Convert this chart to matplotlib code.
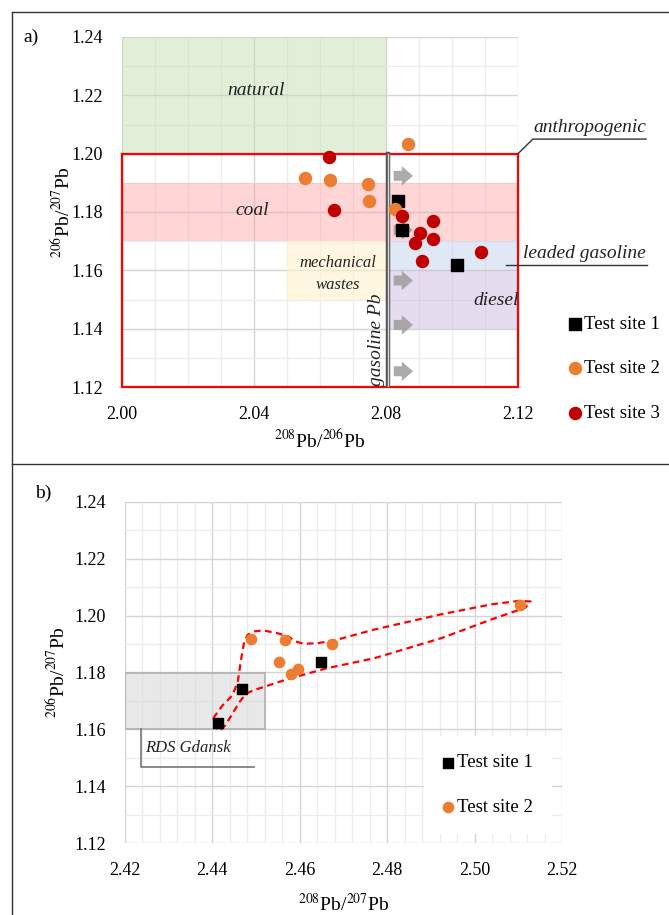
import numpy as np
import matplotlib
matplotlib.use('Agg')
import matplotlib.pyplot as plt
from matplotlib.patches import Rectangle
from matplotlib.lines import Line2D
from matplotlib.ticker import MultipleLocator

plt.rcParams['font.family'] = ['Liberation Serif', 'DejaVu Serif']
plt.rcParams['mathtext.fontset'] = 'stix'

# panel a) data: 208Pb/206Pb vs 206Pb/207Pb
a_site1_x = [2.0837, 2.0847, 2.1016]
a_site1_y = [1.1837, 1.1738, 1.1617]
a_site2_x = [2.0867, 2.0555, 2.0629, 2.0745, 2.0747, 2.0828]
a_site2_y = [1.2032, 1.1916, 1.1910, 1.1895, 1.1838, 1.1810]
a_site3_x = [2.0628, 2.0641, 2.0848, 2.0943, 2.0904, 2.0941, 2.0889, 2.0908, 2.1087]
a_site3_y = [1.1987, 1.1808, 1.1786, 1.1768, 1.1729, 1.1706, 1.1693, 1.1632, 1.1664]

# source fields (x0, x1, y0, y1)
natural = (2.00, 2.08, 1.20, 1.24)
coal = (2.00, 2.12, 1.17, 1.19)
mech_wastes = (2.05, 2.08, 1.15, 1.17)
leaded = (2.08, 2.12, 1.16, 1.17)
diesel = (2.08, 2.12, 1.14, 1.16)
anthropogenic = (2.00, 2.12, 1.12, 1.20)
gasoline_x = 2.0805
arrow_y = [1.1924, 1.1738, 1.1565, 1.1413, 1.1254]

# panel b) data: 208Pb/207Pb vs 206Pb/207Pb
b_site1_x = [2.4413, 2.4468, 2.4649]
b_site1_y = [1.1622, 1.1741, 1.1836]
b_site2_x = [2.4489, 2.4566, 2.4674, 2.4553, 2.4580, 2.4595, 2.5104]
b_site2_y = [1.1917, 1.1913, 1.1899, 1.1838, 1.1795, 1.1813, 1.2036]
rds_box = (2.42, 2.452, 1.16, 1.18)
# hand drawn envelope around the samples
env_x = [2.4402, 2.4423, 2.4446, 2.4458, 2.4466, 2.4473, 2.4481, 2.4497, 2.4516,
         2.4547, 2.4574, 2.4589, 2.4608, 2.4639, 2.4677, 2.4770, 2.4924, 2.5039,
         2.5101, 2.5128, 2.5116, 2.5039, 2.4924, 2.4770, 2.4662, 2.4577, 2.4493,
         2.4477, 2.4462, 2.4443, 2.4430, 2.4417, 2.4405, 2.4402]
env_y = [1.1639, 1.1684, 1.1720, 1.1767, 1.1850, 1.1910, 1.1933, 1.1945, 1.1948,
         1.1939, 1.1927, 1.1910, 1.1901, 1.1903, 1.1912, 1.1951, 1.2005, 1.2040,
         1.2052, 1.2050, 1.2028, 1.1987, 1.1921, 1.1850, 1.1815, 1.1779, 1.1737,
         1.1726, 1.1696, 1.1648, 1.1615, 1.1595, 1.1610, 1.1639]

ORANGE = '#ED7D31'
RED = '#C00000'
TS = 13

fig = plt.figure(figsize=(6.69, 9.15), dpi=100)

def style_axes(ax, xlim, ylim, xmaj, xmin, ymaj, ymin):
    ax.set_xlim(*xlim)
    ax.set_ylim(*ylim)
    ax.xaxis.set_major_locator(MultipleLocator(xmaj))
    ax.xaxis.set_minor_locator(MultipleLocator(xmin))
    ax.yaxis.set_major_locator(MultipleLocator(ymaj))
    ax.yaxis.set_minor_locator(MultipleLocator(ymin))
    ax.grid(which='major', color='#d4d4d4', lw=1.0)
    ax.grid(which='minor', color='#ececec', lw=0.9)
    ax.set_axisbelow(True)
    for s in ax.spines.values():
        s.set_visible(False)
    ax.tick_params(which='both', length=0, labelsize=TS)
    ax.tick_params(axis='x', pad=14)
    ax.tick_params(axis='y', pad=14)
    ax.xaxis.set_major_formatter(matplotlib.ticker.FormatStrFormatter('%.2f'))
    ax.yaxis.set_major_formatter(matplotlib.ticker.FormatStrFormatter('%.2f'))

def field(ax, r, color, alpha, **kw):
    ax.add_patch(Rectangle((r[0], r[2]), r[1] - r[0], r[3] - r[2],
                           facecolor=color, alpha=alpha, lw=0, zorder=1, **kw))

# ---------- panel a ----------
ax1 = fig.add_axes([122/669, 1 - 387/915, 396/669, 350/915])
style_axes(ax1, (2.00, 2.12), (1.12, 1.24), 0.04, 0.01, 0.02, 0.01)

field(ax1, natural, '#c5e0b4', 0.5)
field(ax1, coal, '#ff9b9b', 0.42)
field(ax1, mech_wastes, '#fff2cc', 0.6)
field(ax1, leaded, '#b4c7e7', 0.4)
field(ax1, diesel, '#c9b3dd', 0.45)

r = anthropogenic
ax1.add_patch(Rectangle((r[0], r[2]), r[1] - r[0], r[3] - r[2], fill=False,
                        edgecolor='#ff0000', lw=1.6, zorder=2, clip_on=False))

ax1.plot([gasoline_x, gasoline_x], [1.12, 1.20], color='#555555', lw=3.2, zorder=3)
ax1.plot([gasoline_x, gasoline_x], [1.12, 1.20], color='#d8d8d8', lw=1.0, zorder=3)

for y in arrow_y:
    ax1.annotate('', xy=(2.0890, y), xytext=(2.0815, y), zorder=3,
                 arrowprops=dict(arrowstyle='simple,head_width=0.7,head_length=0.4,tail_width=0.36',
                                 mutation_scale=20, color='#9c9c9c', alpha=0.85, lw=0))

ax1.scatter(a_site1_x, a_site1_y, marker='s', s=85, color='black', zorder=5, label='Test site 1')
ax1.scatter(a_site2_x, a_site2_y, marker='o', s=75, color=ORANGE, zorder=5, label='Test site 2')
ax1.scatter(a_site3_x, a_site3_y, marker='o', s=75, color=RED, zorder=5, label='Test site 3')

it = dict(style='italic', fontsize=14, color='#222222', zorder=4)
ax1.text(2.0405, 1.2215, 'natural', ha='center', va='center', **it)
ax1.text(2.0395, 1.1805, 'coal', ha='center', va='center', **it)
ax1.text(2.0655, 1.1625, 'mechanical', ha='center', va='center', style='italic', fontsize=12, color='#222222', zorder=4)
ax1.text(2.0655, 1.1550, 'wastes', ha='center', va='center', style='italic', fontsize=12, color='#222222', zorder=4)
ax1.text(2.1135, 1.1495, 'diesel', ha='center', va='center', **it)
ax1.text(2.0772, 1.1205, 'gasoline Pb', ha='center', va='bottom', rotation=90, **it)
ax1.text(2.1402, 1.1658, 'leaded gasoline', ha='center', va='center', clip_on=False, **it)
ax1.plot([2.1165, 2.1590], [1.1618, 1.1618], color='#333333', lw=1.0, clip_on=False, zorder=4)
ax1.text(2.1418, 1.2090, 'anthropogenic', ha='center', va='center', clip_on=False, **it)
ax1.plot([2.12, 2.1245, 2.1588], [1.20, 1.2050, 1.2050], color='#333333', lw=1.0,
         clip_on=False, zorder=4)

ax1.set_xlabel(r'$^{208}$Pb/$^{206}$Pb', fontsize=TS + 1, labelpad=4)
ax1.set_ylabel(r'$^{206}$Pb/$^{207}$Pb', fontsize=TS + 1, labelpad=-2)
ax1.legend(loc='upper left', bbox_to_anchor=(1.11, 0.225), frameon=False, fontsize=TS + 0.5,
           handlelength=0.6, handletextpad=0.2, labelspacing=1.45, borderaxespad=0,
           scatterpoints=1)

# ---------- panel b ----------
ax2 = fig.add_axes([125/669, 1 - 843/915, 437/669, 341/915])
style_axes(ax2, (2.42, 2.52), (1.12, 1.24), 0.02, 0.004, 0.02, 0.01)

r = rds_box
ax2.add_patch(Rectangle((r[0], r[2]), r[1] - r[0], r[3] - r[2], facecolor='#d9d9d9',
                        alpha=0.6, edgecolor='none', zorder=1))
ax2.add_patch(Rectangle((r[0], r[2]), r[1] - r[0], r[3] - r[2], fill=False,
                        edgecolor='#b0b0b0', lw=1.2, zorder=1))
ax2.plot([2.4237, 2.4237, 2.4495], [1.1600, 1.1467, 1.1467], color='#777777', lw=1.2, zorder=2)
ax2.text(2.4343, 1.1535, 'RDS Gdansk', ha='center', va='center', style='italic',
         fontsize=12, color='#222222')

ax2.plot(env_x, env_y, color='#ff0000', lw=1.6, ls=(0, (3, 2)), zorder=3)
ax2.scatter(b_site1_x, b_site1_y, marker='s', s=62, color='black', zorder=5, label='Test site 1')
ax2.scatter(b_site2_x, b_site2_y, marker='o', s=55, color=ORANGE, zorder=5, label='Test site 2')

ax2.set_xlabel(r'$^{208}$Pb/$^{207}$Pb', fontsize=TS + 1, labelpad=10)
ax2.set_ylabel(r'$^{206}$Pb/$^{207}$Pb', fontsize=TS + 1, labelpad=4)
leg = ax2.legend(loc='center', bbox_to_anchor=(0.83, 0.17), frameon=True, fontsize=TS + 0.5,
                 handlelength=0.6, handletextpad=0.2, labelspacing=1.45, borderpad=1.0,
                 fancybox=False, scatterpoints=1)
leg.get_frame().set_edgecolor('none')
leg.get_frame().set_facecolor('white')
leg.get_frame().set_alpha(1)

# panel labels and frame
fig.text(23/669, 1 - 37/915, 'a)', fontsize=TS + 1, va='center')
fig.text(35/669, 1 - 493/915, 'b)', fontsize=TS + 1, va='center')
lx = 11.7/669
fig.add_artist(Line2D([lx, lx], [0, 1 - 11.7/915], color='#333333', lw=1.0))
fig.add_artist(Line2D([lx, 1], [1 - 11.7/915, 1 - 11.7/915], color='#333333', lw=1.0))
fig.add_artist(Line2D([lx, 1], [1 - 464/915, 1 - 464/915], color='#333333', lw=1.0))

fig.savefig('out.png', dpi=100)
